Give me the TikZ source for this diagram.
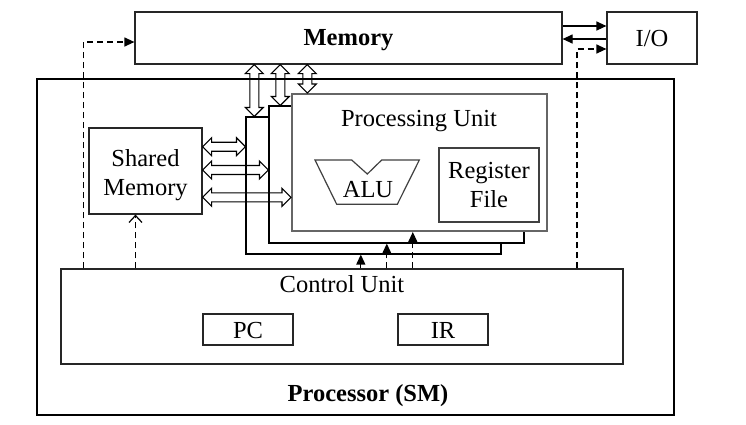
\documentclass[tikz,border=0pt]{standalone}
\usepackage{fontspec}
\setmainfont{Liberation Serif}
\usetikzlibrary{arrows.meta,calc}
\newcommand\blockarrow[2]{%
  \draw[blk] let \p1=#1, \p2=#2, \n1={veclen(\x2-\x1,\y2-\y1)}, \n2={atan2(\y2-\y1,\x2-\x1)} in
    (\p1) -- ++(\n2+45:12.728pt) -- ++(\n2-90:4.5pt) -- ++(\n2:\n1-18pt) -- ++(\n2+90:4.5pt)
    -- (\p2) -- ++(\n2+225:12.728pt) -- ++(\n2+90:4.5pt) -- ++(\n2+180:\n1-18pt)
    -- ++(\n2-90:4.5pt) -- cycle;}
\begin{document}
\begin{tikzpicture}[x=1pt,y=-1pt,
  every node/.style={font=\fontsize{24.5}{29}\selectfont, inner sep=0pt},
  box/.style={draw=black!85, line width=1.2pt, fill=none},
  pubox/.style={draw=black, line width=1.1pt, fill=white},
  blk/.style={draw=black, line width=1.1pt, line join=miter},
  txt/.style={anchor=base},
  ctl/.style={line width=1.2pt, -{Triangle[length=10pt,width=9pt]}},
  dctl/.style={ctl, dash pattern=on 6pt off 4pt}]
\useasboundingbox (0,0) rectangle (746,424);

% outer processor
\node[box, draw=black, minimum width=637pt, minimum height=336pt] (proc) at (355.5,247) {};
\node[txt, font=\fontsize{24.5}{29}\selectfont\bfseries] (proclbl) at (368,401.5) {Processor (SM)};

% memory and I/O
\node[box, minimum width=427pt, minimum height=52pt] (mem) at (348.5,38) {};
\node[txt] (memlbl) at (348.5,45.5) {\bfseries Memory};
\node[box, minimum width=90pt, minimum height=52pt] (io) at (652,38) {};
\node[txt] (iolbl) at (652,46.5) {I/O};

% processing units
\node[pubox, minimum width=255pt, minimum height=137pt] (back) at (373.5,185.5) {};
\node[pubox, minimum width=255pt, minimum height=137pt] (mid) at (396.5,174.5) {};
\node[pubox, draw=black!60, line width=2pt, minimum width=255pt, minimum height=137pt] (front) at (419.5,162.5) {};
\node[txt] (pulbl) at (419,126.5) {Processing Unit};
\draw[line width=1.2pt, draw=black!75] (315,160) -- (351.7,160) -- (367.3,174) -- (381.7,160) -- (419.3,160) -- (397.3,204.3) -- (336.7,204.3) -- cycle;
\node[txt] (alu) at (368,197.3) {ALU};
\node[box, draw=black!75, minimum width=100pt, minimum height=74pt] (rf) at (489,185) {};
\node[txt] (rf1) at (489,178) {Register};
\node[txt] (rf2) at (489,207.3) {File};

% shared memory
\node[box, minimum width=113pt, minimum height=86pt] (sm) at (145.5,171) {};
\node[txt] (sm1) at (145.5,166) {Shared};
\node[txt] (sm2) at (145.5,195) {Memory};

% control unit
\node[box, minimum width=562pt, minimum height=95pt] (cu) at (342,316.5) {};
\node[txt] (culbl) at (342,292.5) {Control Unit};
\node[box, minimum width=90pt, minimum height=31pt] (pc) at (248,329.5) {};
\node[txt] (pclbl) at (248,338.3) {PC};
\node[box, minimum width=90pt, minimum height=31pt] (ir) at (443,329.5) {};
\node[txt] (irlbl) at (443,338.3) {IR};

% memory <-> I/O
\draw[ctl] (mem.east |- 0,26) -- (io.west |- 0,26);
\draw[ctl] (io.west |- 0,39) -- (mem.east |- 0,39);

% control lines
\coordinate (c1) at (83.5,0);
\coordinate (c2) at (135.5,0);
\coordinate (c3) at (360.8,0);
\coordinate (c4) at (386.8,0);
\coordinate (c5) at (412.8,0);
\coordinate (c6) at (577,0);
\draw[dctl] (c1 |- cu.north) -- (c1 |- 0,42) -- (mem.west |- 0,42);
\draw[dctl] (c6 |- cu.north) -- (c6 |- 0,49) -- (io.west |- 0,49);
\draw[line width=1.2pt, dash pattern=on 6pt off 4pt, -{Straight Barb[length=7pt,width=13pt]}] (c2 |- cu.north) -- (c2 |- sm.south);
\draw[ctl] (c3 |- cu.north) -- (c3 |- back.south);
\draw[dctl] (c4 |- cu.north) -- (c4 |- mid.south);
\draw[dctl] (c5 |- cu.north) -- (c5 |- front.south);

% block arrows: memory <-> processing units
\blockarrow{(mem.south -| 254.3,0)}{(back.north -| 254.3,0)}
\blockarrow{(mem.south -| 280.3,0)}{(mid.north -| 280.3,0)}
\blockarrow{(mem.south -| 307.3,0)}{(front.north -| 307.3,0)}
% block arrows: shared memory <-> processing units
\blockarrow{(sm.east |- 0,146.7)}{(back.west |- 0,146.7)}
\blockarrow{(sm.east |- 0,170)}{(mid.west |- 0,170)}
\blockarrow{(sm.east |- 0,197.3)}{(front.west |- 0,197.3)}
\end{tikzpicture}
\end{document}
